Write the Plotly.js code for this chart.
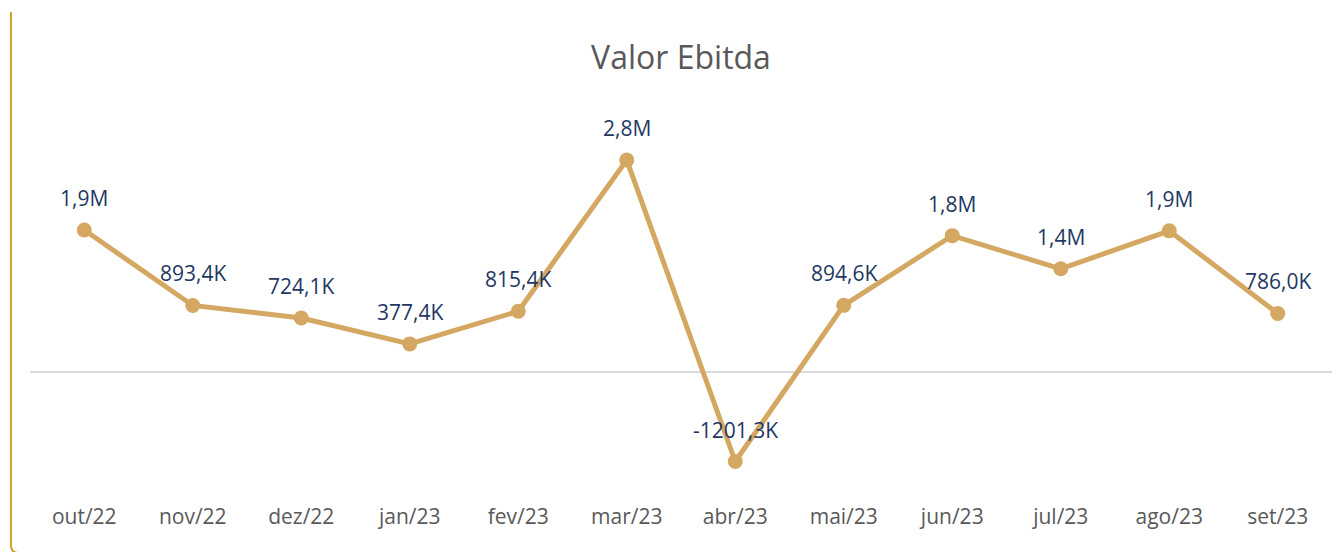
<!DOCTYPE html>
<html>
<head>
<meta charset="utf-8">
<script src="https://cdn.plot.ly/plotly-3.0.1.min.js"></script>
<style>
html,body{margin:0;padding:0;background:#fff;overflow:hidden;}
#frame{position:absolute;left:10px;top:12px;width:2000px;height:540px;border-left:2px solid #D1A227;border-bottom:2px solid #D1A227;border-bottom-left-radius:8px;pointer-events:none;}
#chart{position:absolute;left:0;top:0;width:1344px;height:552px;}
</style>
</head>
<body>
<div id="chart"></div>
<div id="frame"></div>
<script>
const months = ["out/22","nov/22","dez/22","jan/23","fev/23","mar/23","abr/23","mai/23","jun/23","jul/23","ago/23","set/23"];
const ebitdaK = [1906, 893.4, 724.1, 377.4, 815.4, 2845, -1201.3, 894.6, 1830, 1385, 1895, 786.0];
const labels = ["1,9M","893,4K","724,1K","377,4K","815,4K","2,8M","-1201,3K","894,6K","1,8M","1,4M","1,9M","786,0K"];

const lineColor = "#D4A862";
const labelColor = "#1F3864";
const FONT = "Open Sans, Liberation Sans, sans-serif";

const trace = {
  x: months,
  y: ebitdaK,
  type: "scatter",
  mode: "lines+markers",
  line: {color: lineColor, width: 5},
  marker: {color: lineColor, size: 15},
  hoverinfo: "skip",
  cliponaxis: false
};

const annotations = months.map((m, i) => ({
  x: m, y: ebitdaK[i], xref: "x", yref: "y",
  text: labels[i], showarrow: false, yshift: 32, yanchor: "middle",
  font: {family: FONT, size: 21, color: labelColor}
}));

const layout = {
  width: 1344, height: 552,
  margin: {l: 30, r: 12, t: 100, b: 52},
  paper_bgcolor: "rgba(0,0,0,0)",
  plot_bgcolor: "rgba(0,0,0,0)",
  showlegend: false,
  title: {text: "Valor Ebitda", x: 0.5, xref: "paper", y: 0.895, yref: "container", yanchor: "middle",
          font: {family: FONT, size: 32, color: "#595959"}},
  xaxis: {type: "category", range: [-0.5, 11.5], showgrid: false, zeroline: false, showline: false,
          ticks: "", ticklabelstandoff: 2,
          tickfont: {family: FONT, size: 21, color: "#595959"}, fixedrange: true},
  yaxis: {range: [-1718, 3651], showgrid: false, zeroline: true, zerolinecolor: "#D9D9D9", zerolinewidth: 2,
          showticklabels: false, ticks: "", showline: false, fixedrange: true},
  annotations: annotations
};

Plotly.newPlot("chart", [trace], layout, {displayModeBar: false, staticPlot: true});
</script>
</body>
</html>
